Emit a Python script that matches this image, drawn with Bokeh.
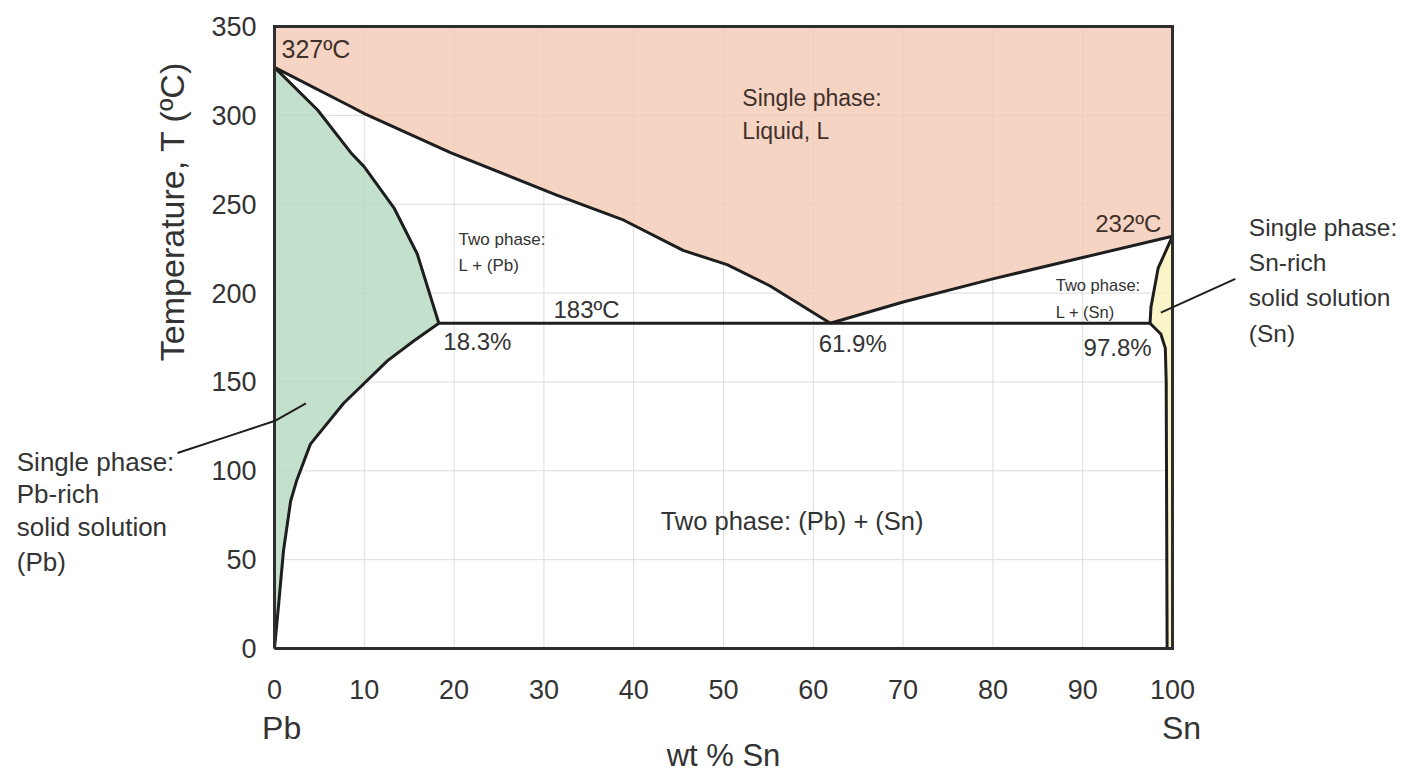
from bokeh.plotting import figure
from bokeh.models import Label, FixedTicker, Range1d
from bokeh.embed import file_html
from bokeh.resources import INLINE

# ---- data (wt % Sn, temperature in C) ----
liq_left_x = [0, 8.5, 10, 19.6, 31.5, 38.9, 45.5, 50.4, 55.2, 61.9]
liq_left_y = [327, 305, 301, 279, 255, 241, 224, 216, 204, 183]
liq_right_x = [61.9, 70, 80, 90, 100]
liq_right_y = [183, 195, 208, 220, 232]
sol_left_x = [0, 4.8, 8.5, 10, 13.3, 15.9, 18.3]
sol_left_y = [327, 303, 279, 271, 248, 222, 183]
solvus_left_x = [18.3, 15.5, 12.6, 7.7, 4.0, 2.5, 1.8, 1.0, 0.5, 0]
solvus_left_y = [183, 173, 162, 138, 115, 95, 83, 55, 27, 0]
sol_right_x = [100, 98.4, 97.6, 97.5]
sol_right_y = [232, 214, 192, 183]
solvus_right_x = [97.5, 98.7, 99.2, 99.3, 99.4]
solvus_right_y = [183, 177, 169, 150, 0]
eutectic_x = [18.3, 97.5]
eutectic_y = [183, 183]

x_ticks = [0, 10, 20, 30, 40, 50, 60, 70, 80, 90, 100]
y_ticks = [0, 50, 100, 150, 200, 250, 300, 350]
x_min, x_max = 0, 100
t_min, t_max = 0, 350

# leader lines
pb_leader_x = [-10.8, -4.5, 0, 3.5]
pb_leader_y = [110, 120.5, 128, 138]
sn_leader_x = [107.0, 98.7]
sn_leader_y = [208, 189]

FONT = "Liberation Sans"
TXT = "#333333"
LINE = "#1e1e1e"
BROWN = "#3f302b"

# canvas covers the whole window; data 0..100 x 0..350 occupies the box
p = figure(frame_width=1405, frame_height=772,
           min_border_left=0, min_border_right=0,
           min_border_top=0, min_border_bottom=0,
           x_range=Range1d(-30.512, 125.947), y_range=Range1d(-69.78, 364.64),
           output_backend="svg", toolbar_location=None)
p.background_fill_color = "white"
p.border_fill_color = "white"
p.outline_line_color = None
p.xgrid.visible = False
p.ygrid.visible = False

# grid lines within the data box
p.segment(x0=x_ticks, y0=t_min, x1=x_ticks, y1=t_max, line_color="#dcdcdc", line_width=1)
p.segment(x0=x_min, y0=y_ticks, x1=x_max, y1=y_ticks, line_color="#dcdcdc", line_width=1)

# regions
liq_px = [0, 100] + liq_right_x[::-1] + liq_left_x[::-1][1:]
liq_py = [350, 350] + liq_right_y[::-1] + liq_left_y[::-1][1:]
p.patch(liq_px, liq_py, fill_color="#F4C9B4", fill_alpha=0.8, line_color=None)

pb_px = sol_left_x + solvus_left_x[1:]
pb_py = sol_left_y + solvus_left_y[1:]
p.patch(pb_px, pb_py, fill_color="#B4D8C0", fill_alpha=0.8, line_color=None)

sn_px = sol_right_x + solvus_right_x[1:] + [100]
sn_py = sol_right_y + solvus_right_y[1:] + [0]
p.patch(sn_px, sn_py, fill_color="#F9F2BA", fill_alpha=0.8, line_color=None)

# boundaries
for xs, ys in [(liq_left_x, liq_left_y), (liq_right_x, liq_right_y),
               (sol_left_x, sol_left_y), (solvus_left_x, solvus_left_y),
               (sol_right_x, sol_right_y), (solvus_right_x, solvus_right_y),
               (eutectic_x, eutectic_y)]:
    p.line(xs, ys, line_color=LINE, line_width=3, line_join="round")

# box around data area
p.line([x_min, x_max, x_max, x_min, x_min], [t_min, t_min, t_max, t_max, t_min],
       line_color="#2e2e2e", line_width=3, line_join="miter")

# leader lines
p.line(pb_leader_x, pb_leader_y, line_color=LINE, line_width=2)
p.line(sn_leader_x, sn_leader_y, line_color=LINE, line_width=2)

# axes placed at the data box edges
for ax in (p.xaxis, p.yaxis):
    ax.axis_line_color = None
    ax.major_tick_line_color = None
    ax.minor_tick_line_color = None
    ax.major_label_text_font = FONT
    ax.major_label_text_font_size = "27px"
    ax.major_label_text_color = TXT
p.xaxis.ticker = FixedTicker(ticks=x_ticks)
p.yaxis.ticker = FixedTicker(ticks=y_ticks)
p.xaxis.fixed_location = 0
p.yaxis.fixed_location = 0
p.xaxis.bounds = (x_min, x_max)
p.yaxis.bounds = (t_min, t_max)
p.xaxis.major_label_standoff = 26
p.yaxis.major_label_standoff = 12


def lab(x, y, text, size, align="left", color=TXT, angle=0.0):
    p.add_layout(Label(x=x, y=y, text=text, text_font=FONT,
                       text_font_size=f"{size}px", text_color=color,
                       text_align=align, text_baseline="middle", angle=angle))


lab(0.78, 337.6, "327ºC", 25, color=BROWN)
lab(52.1, 310, "Single phase:", 23, color=BROWN)
lab(52.1, 291, "Liquid, L", 23, color=BROWN)
lab(20.5, 230, "Two phase:", 17)
lab(20.5, 215.5, "L + (Pb)", 17)
lab(31.07, 190.8, "183ºC", 24)
lab(18.8, 172.8, "18.3%", 24)
lab(60.6, 171.6, "61.9%", 24)
lab(90.1, 169.4, "97.8%", 24)
lab(91.4, 239.2, "232ºC", 24, color=BROWN)
lab(87.0, 204.3, "Two phase:", 16.5)
lab(87.0, 189.1, "L + (Sn)", 16.5)
lab(43.0, 72, "Two phase: (Pb) + (Sn)", 25.5)

for yy, t in zip([236.9, 217.2, 197.5, 177.3],
                 ["Single phase:", "Sn-rich", "solid solution", "(Sn)"]):
    lab(108.5, yy, t, 24.5)
for yy, t in zip([104.7, 86.7, 68.1, 48.4],
                 ["Single phase:", "Pb-rich", "solid solution", "(Pb)"]):
    lab(-28.7, yy, t, 26)

lab(0.8, -45, "Pb", 32, align="center")
lab(101, -45, "Sn", 32, align="center")
lab(50, -60.2, "wt % Sn", 31, align="center")
lab(-11.36, 246.0, "Temperature, T (ºC)", 34, align="center", angle=1.5707963)

open("out.html", "w").write(file_html(p, INLINE))
